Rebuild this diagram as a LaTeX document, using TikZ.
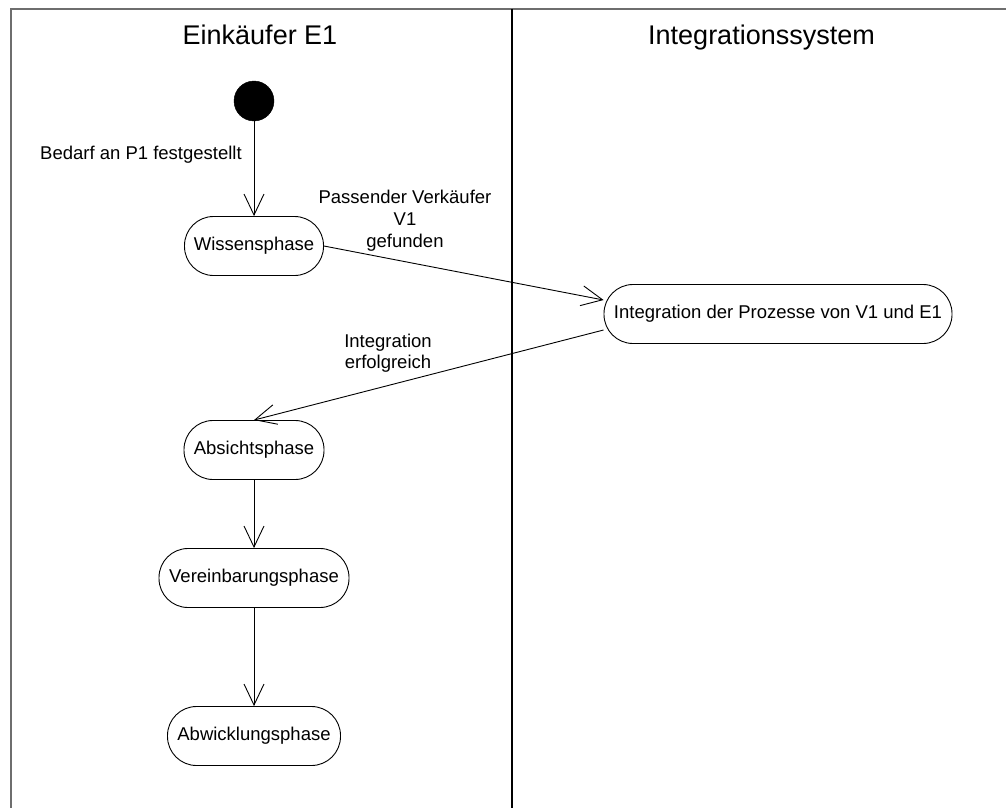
\documentclass[tikz,border=0pt]{standalone}
\usepackage{fontspec}
\setmainfont{Liberation Sans}
\usetikzlibrary{arrows.meta}
\definecolor{lanegray}{RGB}{110,110,110}
\begin{document}
\begin{tikzpicture}[x=1pt,y=-1pt,
  state/.style={draw=black,line width=0.9pt,rounded corners=29pt,minimum height=59pt,
    inner sep=0pt,font=\fontsize{18.5}{22}\selectfont},
  startnode/.style={circle,fill=black,draw=black,minimum size=40pt,inner sep=0pt},
  flow/.style={draw=black,line width=0.9pt,-{Straight Barb[length=21pt,width=20pt,line width=0.9pt]}},
  lbl/.style={font=\fontsize{18.5}{22}\selectfont,inner sep=0pt},
  lanehead/.style={font=\fontsize{27}{30}\selectfont,inner sep=0pt,anchor=base}]
\useasboundingbox (0,0) rectangle (1006,808);
\fill[white] (0,0) rectangle (1006,808);

% swimlane frame
\draw[lanegray,line width=2pt] (11,808) -- (11,9) -- (1006,9);
\draw[black,line width=2pt] (512,9) -- (512,808);
\node[lanehead] (laneA) at (260,45) {Einkäufer E1};
\node[lanehead] (laneB) at (761.5,45) {Integrationssystem};

% activity states
\node[startnode] (start) at (254,101) {};
\node[state,minimum width=139pt] (wis) at (254,246) {Wissensphase};
\node[state,minimum width=348pt] (int) at (778,314) {Integration der Prozesse von V1 und E1};
\node[state,minimum width=140pt] (abs) at (254,450) {Absichtsphase};
\node[state,minimum width=190pt] (ver) at (254,578) {Vereinbarungsphase};
\node[state,minimum width=173pt] (abw) at (254,736) {Abwicklungsphase};

% transitions
\draw[flow] (start.south) -- (wis.north);
\draw[flow] (wis.east) -- ([yshift=14pt]int.west);
\draw[flow] ([yshift=-16pt]int.west) -- (abs.north);
\draw[flow] (abs.south) -- (ver.north);
\draw[flow] (ver.south) -- (abw.north);

% transition labels
\node[lbl,anchor=base west] (t1) at (40,159) {Bedarf an P1 festgestellt};
\node[lbl,align=center] (t2) at (405,220.5) {Passender Verkäufer\\V1\\gefunden};
\node[lbl,align=center,font=\fontsize{18.5}{21}\selectfont] (t3) at (388,353) {Integration\\erfolgreich};
\end{tikzpicture}
\end{document}
